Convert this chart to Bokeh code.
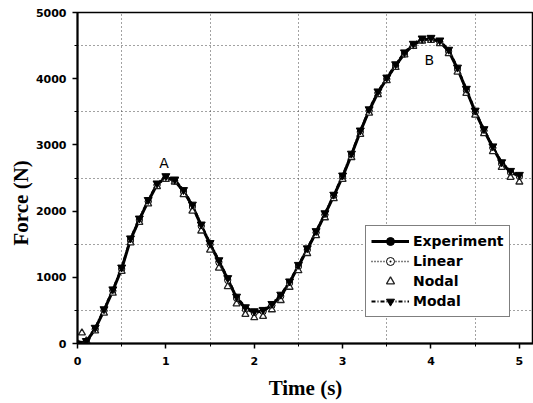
from bokeh.plotting import figure
from bokeh.models import Range1d, FixedTicker, Legend, LegendItem, Title
from bokeh.core.properties import value
from bokeh.embed import file_html
from bokeh.resources import INLINE

time_s = [0.0, 0.1, 0.2, 0.3, 0.4, 0.5, 0.6, 0.7, 0.8, 0.9,
          1.0, 1.1, 1.2, 1.3, 1.4, 1.5, 1.6, 1.7, 1.8, 1.9,
          2.0, 2.1, 2.2, 2.3, 2.4, 2.5, 2.6, 2.7, 2.8, 2.9,
          3.0, 3.1, 3.2, 3.3, 3.4, 3.5, 3.6, 3.7, 3.8, 3.9,
          4.0, 4.1, 4.2, 4.3, 4.4, 4.5, 4.6, 4.7, 4.8, 4.9, 5.0]

experiment = [0, 30, 220, 500, 800, 1130, 1570, 1870, 2150, 2400,
              2510, 2460, 2300, 2080, 1780, 1500, 1240, 970, 690, 530,
              470, 490, 580, 720, 920, 1170, 1420, 1680, 1950, 2230,
              2520, 2850, 3200, 3520, 3790, 4000, 4200, 4380, 4510, 4590,
              4600, 4560, 4420, 4150, 3830, 3500, 3220, 2960, 2720, 2590, 2530]

linear = [0, 20, 210, 490, 790, 1120, 1550, 1860, 2140, 2390,
          2500, 2450, 2290, 2060, 1770, 1490, 1220, 950, 680, 510,
          460, 480, 570, 710, 910, 1160, 1410, 1670, 1940, 2220,
          2510, 2840, 3190, 3510, 3780, 3990, 4190, 4370, 4500, 4580,
          4590, 4550, 4410, 4140, 3820, 3490, 3210, 2950, 2710, 2580, 2520]

nodal_time = [0.0, 0.05, 0.1, 0.2, 0.3, 0.4, 0.5, 0.6, 0.7, 0.8, 0.9,
              1.0, 1.1, 1.2, 1.3, 1.4, 1.5, 1.6, 1.7, 1.8, 1.9,
              2.0, 2.1, 2.2, 2.3, 2.4, 2.5, 2.6, 2.7, 2.8, 2.9,
              3.0, 3.1, 3.2, 3.3, 3.4, 3.5, 3.6, 3.7, 3.8, 3.9,
              4.0, 4.1, 4.2, 4.3, 4.4, 4.5, 4.6, 4.7, 4.8, 4.9, 5.0]

nodal = [0, 160,
         40, 190, 460, 760, 1090, 1520, 1830, 2110, 2370,
         2480, 2440, 2250, 2000, 1700, 1410, 1140, 860, 600, 440,
         390, 410, 510, 650, 850, 1100, 1360, 1630, 1900, 2190,
         2480, 2810, 3160, 3480, 3760, 3970, 4170, 4360, 4490, 4570,
         4580, 4530, 4380, 4100, 3780, 3450, 3170, 2900, 2660, 2510, 2440]

modal = [0, 40, 240, 520, 820, 1150, 1590, 1890, 2170, 2420,
         2530, 2480, 2320, 2100, 1800, 1520, 1260, 990, 710, 550,
         490, 510, 600, 740, 940, 1190, 1440, 1700, 1970, 2250,
         2540, 2870, 3220, 3540, 3810, 4020, 4220, 4400, 4530, 4610,
         4620, 4580, 4440, 4170, 3850, 3520, 3240, 2980, 2740, 2610, 2550]

x_ticks = [0, 1, 2, 3, 4, 5]
y_ticks = [0, 1000, 2000, 3000, 4000, 5000]
x_grid = [0.5, 1.5, 2.5, 3.5, 4.5]
y_grid = [500, 1500, 2500, 3500, 4500]

peak_labels = ["A", "B"]
peak_label_t = [0.98, 3.98]
peak_label_f = [2720, 4290]

p = figure(width=533, height=403, output_backend="svg", toolbar_location=None,
           x_range=Range1d(0, 5.16), y_range=Range1d(0, 5000),
           min_border_left=77, min_border_right=0, min_border_top=12, min_border_bottom=60)
p.background_fill_color = "white"
p.border_fill_color = "white"
p.outline_line_color = "black"
p.outline_line_width = 1.5

for ax, ticks, minor in ((p.xaxis[0], x_ticks, x_grid), (p.yaxis[0], y_ticks, y_grid)):
    ax.ticker = FixedTicker(ticks=ticks, minor_ticks=minor)
    ax.axis_line_width = 2
    ax.axis_line_color = "black"
    ax.major_tick_out = 5
    ax.major_tick_in = 0
    ax.major_tick_line_width = 1.5
    ax.minor_tick_out = 3
    ax.minor_tick_in = 0
    ax.major_label_text_font = "DejaVu Sans"
    ax.major_label_text_font_style = "bold"
    ax.major_label_text_font_size = "11px"
    ax.major_label_text_color = "black"
    ax.axis_label_text_font = "Liberation Serif"
    ax.axis_label_text_font_style = "bold"
    ax.axis_label_text_font_size = "21px"
    ax.axis_label_text_color = "black"

p.xaxis.axis_label = "Time (s)"
p.xaxis.major_label_standoff = 8
p.yaxis.major_label_standoff = 6
p.xaxis.axis_label_standoff = 8

y_title = Title(text="Force (N)", align="left", offset=98,
                text_font="Liberation Serif", text_font_style="bold",
                text_font_size="21px", text_color="black", standoff=0)
p.add_layout(y_title, "left")

p.xgrid.ticker = FixedTicker(ticks=x_grid)
p.ygrid.ticker = FixedTicker(ticks=y_grid)
for g in (p.xgrid, p.ygrid):
    g.grid_line_color = "#444444"
    g.grid_line_dash = "1 3"
    g.grid_line_width = 1

# Series
l_exp = p.line(time_s, experiment, line_color="black", line_width=3)
s_exp = p.scatter(time_s, experiment, marker="circle", size=6, fill_color="black", line_color="black")

l_lin = p.line(time_s, linear, line_color="black", line_width=1.5, line_dash="1 2")
s_lin = p.scatter(time_s, linear, marker="circle_dot", size=6, fill_color="white", line_color="black")

s_nod = p.scatter(nodal_time, nodal, marker="triangle", size=7, fill_color="white",
                  line_color="#222222", line_width=1.3)

l_mod = p.line(time_s, modal, line_color="black", line_width=2, line_dash="4 2 1 2")
s_mod = p.scatter(time_s, modal, marker="inverted_triangle", size=8, fill_color="black", line_color="black")

p.text(x=peak_label_t, y=peak_label_f, text=peak_labels, text_font=value("DejaVu Sans"),
       text_font_size="14px", text_align="center", text_baseline="middle", text_color="black")

legend = Legend(items=[
    LegendItem(label="Experiment", renderers=[l_exp, s_exp]),
    LegendItem(label="Linear", renderers=[l_lin, s_lin]),
    LegendItem(label="Nodal", renderers=[s_nod]),
    LegendItem(label="Modal", renderers=[l_mod, s_mod]),
], location=(288, 26))
legend.border_line_color = "black"
legend.border_line_width = 1.5
legend.background_fill_color = "white"
legend.background_fill_alpha = 1
legend.label_text_font = "DejaVu Sans"
legend.label_text_font_style = "bold"
legend.label_text_font_size = "14px"
legend.label_text_color = "black"
legend.glyph_width = 38
legend.glyph_height = 20
legend.label_height = 20
legend.label_standoff = 4
legend.spacing = 0
legend.padding = 5
legend.margin = 0
p.add_layout(legend, "center")

open("out.html", "w").write(file_html(p, INLINE))
